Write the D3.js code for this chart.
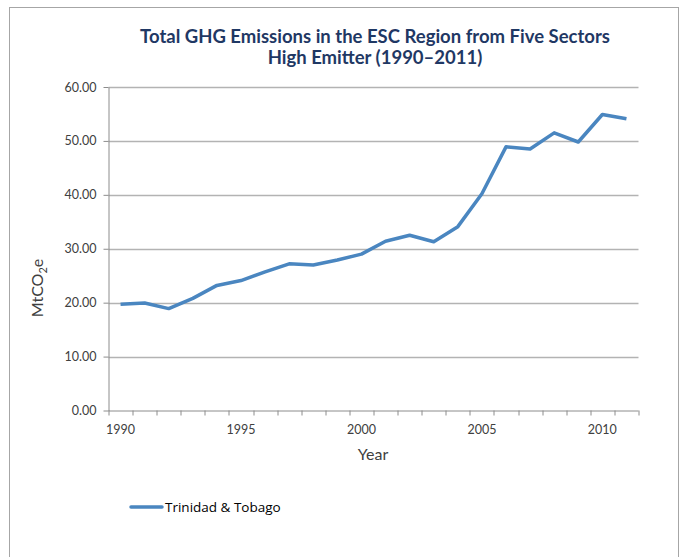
<!DOCTYPE html>
<html>
<head>
<meta charset="utf-8">
<script src="https://cdn.jsdelivr.net/npm/d3@7"></script>
<style>
  body { margin: 0; background: #fff; }
</style>
</head>
<body>
<div id="chart"></div>
<script>
// data
const years = d3.range(1990, 2012);
const tickYears = [1990, 1995, 2000, 2005, 2010];
const seriesName = "Trinidad & Tobago";
const emissions = [19.7, 19.95, 18.9, 20.8, 23.2, 24.1, 25.7, 27.2, 27.0, 27.9, 29.0,
                   31.4, 32.5, 31.3, 34.1, 40.2, 48.9, 48.5, 51.5, 49.8, 54.9, 54.1];
const yTicks = [0, 10, 20, 30, 40, 50, 60];

const W = 683, H = 557;
const margin = {top: 87, right: 44.5, bottom: 146.5, left: 108.5};
const width = W - margin.left - margin.right;
const height = H - margin.top - margin.bottom;

const svg = d3.select("#chart").append("svg")
    .attr("width", W)
    .attr("height", H);

// outer frame
svg.append("rect")
    .attr("x", 9.5).attr("y", 7.5)
    .attr("width", 669).attr("height", 560)
    .attr("fill", "none")
    .attr("stroke", "#a6a6a6")
    .attr("stroke-width", 1);

// title
const title = svg.append("text")
    .attr("text-anchor", "middle")
    .attr("font-family", "Lato")
    .attr("font-weight", "bold")
    .attr("font-size", 18.5)
    .attr("fill", "#1f3864");
title.append("tspan").attr("x", 375).attr("y", 43)
    .text("Total GHG Emissions in the ESC Region from Five Sectors");
title.append("tspan").attr("x", 375).attr("y", 64)
    .text("High Emitter (1990\u20132011)");

const g = svg.append("g")
    .attr("transform", "translate(" + margin.left + "," + margin.top + ")");

const x = d3.scaleBand()
    .domain(years)
    .range([0, width]);

const y = d3.scaleLinear()
    .domain([0, 60])
    .range([height, 0]);

// gridlines
g.append("g")
    .selectAll("line")
    .data(yTicks.filter(d => d > 0))
    .join("line")
        .attr("x1", 0).attr("x2", width)
        .attr("y1", d => Math.round(y(d)) + 0.5)
        .attr("y2", d => Math.round(y(d)) + 0.5)
        .attr("stroke", "#b3b3b3")
        .attr("stroke-width", 1.3);

// Y axis
const yAxis = g.append("g")
    .call(d3.axisLeft(y).tickValues(yTicks).tickFormat(d3.format(".2f")).tickSize(5).tickSizeOuter(0));
yAxis.select(".domain").attr("stroke", "#8c8c8c");
yAxis.selectAll(".tick line").attr("stroke", "#8c8c8c");
yAxis.selectAll("text")
    .attr("font-family", "Lato")
    .attr("font-size", 12.5)
    .attr("fill", "#404040")
    .attr("x", -12);

// X axis: ticks at band edges, labels at band centres
const xAxisG = g.append("g")
    .attr("transform", "translate(0," + height + ")");
xAxisG.append("line")
    .attr("x1", 0).attr("x2", width)
    .attr("y1", 0.5).attr("y2", 0.5)
    .attr("stroke", "#8c8c8c");
xAxisG.selectAll(".tk")
    .data(years.concat([2012]))
    .join("line")
        .attr("class", "tk")
        .attr("x1", d => Math.round(d === 2012 ? width : x(d)) + 0.5)
        .attr("x2", d => Math.round(d === 2012 ? width : x(d)) + 0.5)
        .attr("y1", 0).attr("y2", 5)
        .attr("stroke", "#8c8c8c");
xAxisG.selectAll(".lbl")
    .data(tickYears)
    .join("text")
        .attr("class", "lbl")
        .attr("x", d => x(d) + x.bandwidth() / 2)
        .attr("y", 23)
        .attr("text-anchor", "middle")
        .attr("font-family", "Lato")
        .attr("font-size", 12.5)
        .attr("fill", "#404040")
        .text(d => d);

// the line
g.append("path")
    .datum(emissions)
    .attr("fill", "none")
    .attr("stroke", "#4a86c0")
    .attr("stroke-width", 3.5)
    .attr("stroke-linejoin", "round")
    .attr("d", d3.line()
        .x((d, i) => x(years[i]) + x.bandwidth() / 2)
        .y(d => y(d)));

// axis labels
svg.append("text")
    .attr("text-anchor", "middle")
    .attr("font-family", "Lato")
    .attr("font-size", 16)
    .attr("fill", "#404040")
    .attr("x", 373)
    .attr("y", 460)
    .text("Year");

const yl = svg.append("text")
    .attr("text-anchor", "middle")
    .attr("font-family", "Lato")
    .attr("font-size", 16)
    .attr("fill", "#404040")
    .attr("transform", "translate(43,288) rotate(-90)");
yl.append("tspan").text("MtCO");
yl.append("tspan").attr("font-size", 11).attr("dy", 4).text("2");
yl.append("tspan").attr("dy", -4).text("e");

// legend
svg.append("line")
    .attr("x1", 131).attr("x2", 162)
    .attr("y1", 507).attr("y2", 507)
    .attr("stroke", "#4a86c0")
    .attr("stroke-width", 3.5)
    .attr("stroke-linecap", "round");
svg.append("text")
    .attr("x", 165).attr("y", 512)
    .attr("font-family", "Open Sans")
    .attr("font-size", 13.5)
    .attr("fill", "#000")
    .text(seriesName);
</script>
</body>
</html>
